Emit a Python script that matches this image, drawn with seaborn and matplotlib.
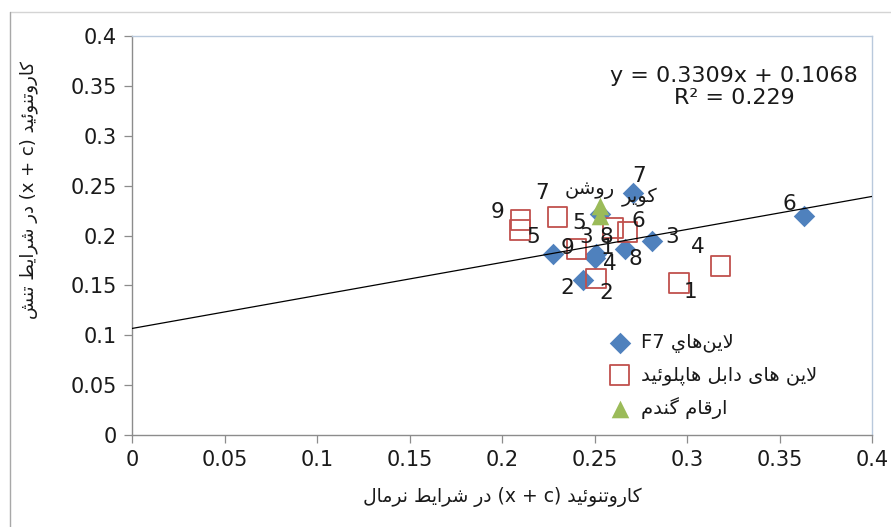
import matplotlib
matplotlib.use("Agg")
import matplotlib.pyplot as plt
from matplotlib.lines import Line2D
import numpy as np
import pandas as pd
import seaborn as sns

# ---------------- data ----------------
f7_ids = ['1', '2', '3', '4', '5', '6', '7', '8', '9']
f7_x = [0.251, 0.244, 0.281, 0.250, 0.253, 0.363, 0.271, 0.2665, 0.2276]
f7_y = [0.181, 0.155, 0.194, 0.177, 0.222, 0.220, 0.243, 0.1865, 0.1815]

dh_ids = ['1', '2', '3', '4', '5', '6', '7', '8', '9']
dh_x = [0.2957, 0.2508, 0.2405, 0.318, 0.2097, 0.268, 0.230, 0.260, 0.210]
dh_y = [0.1524, 0.157, 0.1865, 0.1694, 0.2055, 0.2035, 0.2185, 0.2075, 0.2155]

cv_names = ['روشن', 'کویر']
cv_x = [0.253, 0.253]
cv_y = [0.230, 0.220]

series_names = ['لاین‌هاي F7', 'لاین های دابل هاپلوئید', 'ارقام گندم']
trend_slope = 0.3309
trend_intercept = 0.1068
trend_x = [0.0, 0.4]
equation_text = 'y = 0.3309x + 0.1068\nR² = 0.229'

x_label = 'کاروتنوئید (x + c) در شرایط نرمال'
y_label = 'کاروتنوئید (x + c) در شرایط تنش'
tick_values = [0, 0.05, 0.1, 0.15, 0.2, 0.25, 0.3, 0.35, 0.4]
tick_labels = ['0', '0.05', '0.1', '0.15', '0.2', '0.25', '0.3', '0.35', '0.4']

# label offsets (pixels) – layout only
f7_off = [(11, 6), (-16, -8), (20, 4), (15, -6), (-21, -9), (-14, 12), (6, 17), (10, -10), (14, 6)]
dh_off = [(11, -9), (10, -15), (9, 12), (-22, 19), (13, -7), (11, 11), (-15, 24), (-7, -9), (-23, 8)]
cv_off = [(-10, 16), (40, 18)]

# ---------------- minimal Arabic/Persian shaping + RTL ordering ----------------
FORMS = {
    '\u0627': ('\uFE8D', '\uFE8E', None, None),
    '\u0628': ('\uFE8F', '\uFE90', '\uFE91', '\uFE92'),
    '\u062A': ('\uFE95', '\uFE96', '\uFE97', '\uFE98'),
    '\u062F': ('\uFEA9', '\uFEAA', None, None),
    '\u0631': ('\uFEAD', '\uFEAE', None, None),
    '\u0634': ('\uFEB5', '\uFEB6', '\uFEB7', '\uFEB8'),
    '\u0637': ('\uFEC1', '\uFEC2', '\uFEC3', '\uFEC4'),
    '\u0642': ('\uFED5', '\uFED6', '\uFED7', '\uFED8'),
    '\u0644': ('\uFEDD', '\uFEDE', '\uFEDF', '\uFEE0'),
    '\u0645': ('\uFEE1', '\uFEE2', '\uFEE3', '\uFEE4'),
    '\u0646': ('\uFEE5', '\uFEE6', '\uFEE7', '\uFEE8'),
    '\u0647': ('\uFEE9', '\uFEEA', '\uFEEB', '\uFEEC'),
    '\u0648': ('\uFEED', '\uFEEE', None, None),
    '\u064A': ('\uFEF1', '\uFEF2', '\uFEF3', '\uFEF4'),
    '\u0626': ('\uFE89', '\uFE8A', '\uFE8B', '\uFE8C'),
    '\u06A9': ('\uFB8E', '\uFB8F', '\uFB90', '\uFB91'),
    '\u06AF': ('\uFB92', '\uFB93', '\uFB94', '\uFB95'),
    '\u067E': ('\uFB56', '\uFB57', '\uFB58', '\uFB59'),
    '\u06CC': ('\uFBFC', '\uFBFD', '\uFBFE', '\uFBFF'),
}
LAMALEF = ('\uFEFB', '\uFEFC')


def shape_word(word):
    out = []
    i, n = 0, len(word)
    prev_joins = False
    while i < n:
        c = word[i]
        if c not in FORMS:
            if c != '\u200c':
                out.append(c)
            prev_joins = False
            i += 1
            continue
        nxt = word[i + 1] if i + 1 < n else None
        if c == '\u0644' and nxt == '\u0627':
            out.append(LAMALEF[1] if prev_joins else LAMALEF[0])
            prev_joins = False
            i += 2
            continue
        can_next = FORMS[c][2] is not None and nxt in FORMS
        iso, fin, ini, med = FORMS[c]
        if prev_joins and can_next:
            out.append(med)
        elif prev_joins:
            out.append(fin)
        elif can_next:
            out.append(ini)
        else:
            out.append(iso)
        prev_joins = can_next
        i += 1
    return ''.join(out)


def is_arabic(tok):
    return any('\u0600' <= ch <= '\u06FF' for ch in tok)


def rtl(text):
    runs = []
    for tok in text.split(' '):
        if is_arabic(tok):
            runs.append(shape_word(tok)[::-1])
        else:
            if runs and isinstance(runs[-1], list):
                runs[-1].append(tok)
            else:
                runs.append([tok])
    runs = [' '.join(r) if isinstance(r, list) else r for r in runs]
    return ' '.join(runs[::-1])


# ---------------- figure ----------------
sns.set_theme(style='white')
plt.rcParams['font.family'] = ['DejaVu Sans']
W, H = 891, 527
fig = plt.figure(figsize=(W / 100, H / 100), dpi=100)
fig.patch.set_facecolor('white')
L, R, T, B = 132, 872, 36, 435
ax = fig.add_axes([L / W, 1 - B / H, (R - L) / W, (B - T) / H])

# outer chart border (top and left visible)
fig.add_artist(Line2D([10 / W, 1], [1 - 12 / H, 1 - 12 / H], transform=fig.transFigure,
                      color='#d4d4d4', lw=1.0))
fig.add_artist(Line2D([10 / W, 10 / W], [0, 1 - 12 / H], transform=fig.transFigure,
                      color='#a8a8a8', lw=1.0))

blue = '#4F81BD'
red = '#C0504D'
green = '#9BBB59'

sns.scatterplot(x=f7_x, y=f7_y, marker='D', s=120, color=blue, linewidth=0,
                ax=ax, label=rtl(series_names[0]), zorder=2)
sns.scatterplot(x=dh_x, y=dh_y, marker='s', s=190, color=red, linewidth=1.3,
                ax=ax, label=rtl(series_names[1]), zorder=2)
ax.collections[-1].set_facecolor('none')
ax.collections[-1].set_edgecolor(red)
sns.scatterplot(x=cv_x, y=cv_y, marker='^', s=160, color=green, linewidth=0,
                ax=ax, label=rtl(series_names[2]), zorder=2)

# trendline
trend_y = [trend_slope * v + trend_intercept for v in trend_x]
sns.lineplot(x=trend_x, y=trend_y, color='black', linewidth=0.9, ax=ax, zorder=3)

# data labels
lab_kw = dict(textcoords='offset pixels', ha='center', va='center', fontsize=15.5,
              color='#1a1a1a', zorder=5)
for xi, yi, t, o in zip(f7_x, f7_y, f7_ids, f7_off):
    ax.annotate(t, (xi, yi), xytext=o, **lab_kw)
for xi, yi, t, o in zip(dh_x, dh_y, dh_ids, dh_off):
    ax.annotate(t, (xi, yi), xytext=o, **lab_kw)
for xi, yi, t, o in zip(cv_x, cv_y, cv_names, cv_off):
    ax.annotate(rtl(t), (xi, yi), xytext=o, **{**lab_kw, 'fontsize': 14})

# equation
ax.text((734 - L) / (R - L), (B - 87) / (B - T), equation_text, transform=ax.transAxes,
        ha='center', va='center', fontsize=16, color='#1a1a1a', linespacing=1.15)

# axes
ax.set_xlim(0, 0.4)
ax.set_ylim(0, 0.4)
ax.set_xticks(tick_values)
ax.set_xticklabels(tick_labels)
ax.set_yticks(tick_values)
ax.set_yticklabels(tick_labels)
ax.tick_params(axis='both', which='both', direction='out', length=6, width=0.9,
               color='#8c8c8c', labelsize=15, labelcolor='#1a1a1a', pad=5)
ax.tick_params(axis='both', left=True, bottom=True)
for side in ['left', 'bottom']:
    ax.spines[side].set_color('#8c8c8c')
    ax.spines[side].set_linewidth(1.0)
for side in ['top', 'right']:
    ax.spines[side].set_color('#b9c9dc')
    ax.spines[side].set_linewidth(1.0)
ax.grid(False)

ax.set_xlabel(rtl(x_label), fontsize=13.5, color='#1a1a1a')
ax.set_ylabel(rtl(y_label), fontsize=13, color='#1a1a1a')
ax.xaxis.set_label_coords(0.5, (B - 487) / (B - T))
ax.yaxis.set_label_coords((38 - L) / (R - L), (B - 190) / (B - T))

leg = ax.legend(loc='upper left', bbox_to_anchor=((610 - L) / (R - L), (B - 333) / (B - T)),
                frameon=False, borderpad=0, handlelength=1.0, handletextpad=0.6,
                labelspacing=0.62, fontsize=14, borderaxespad=0)
for t in leg.get_texts():
    t.set_color('#1a1a1a')

fig.savefig('out.png', dpi=100, facecolor='white')
